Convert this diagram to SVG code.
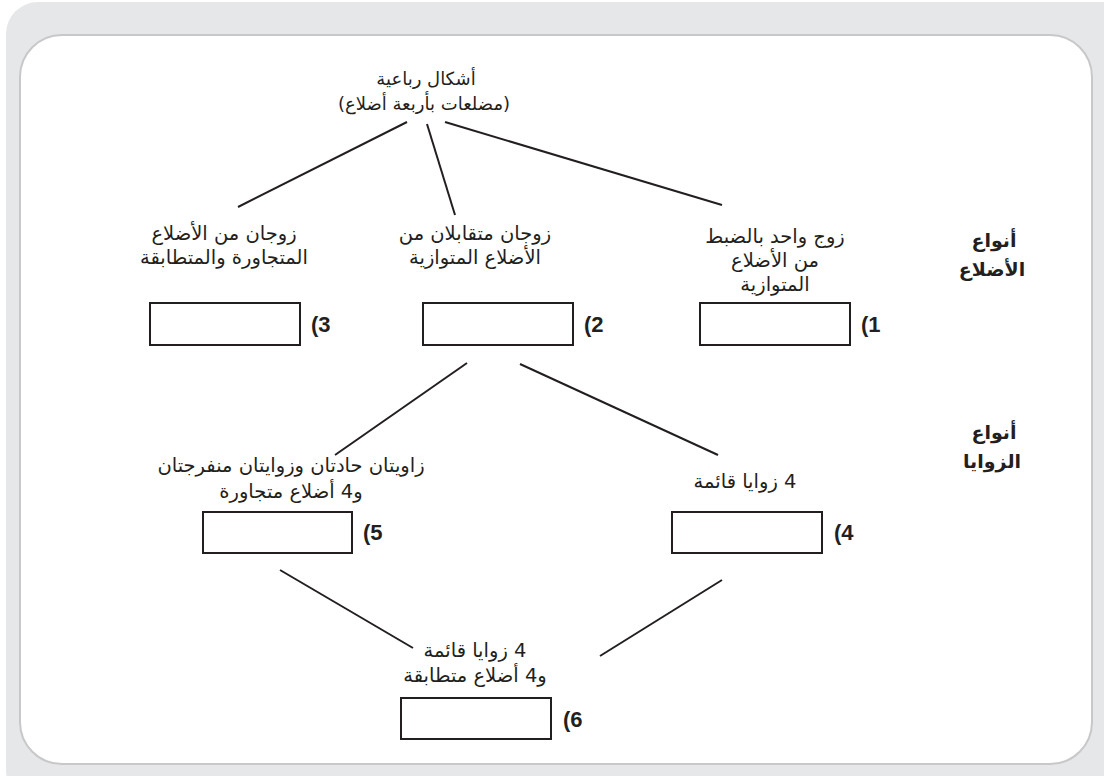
<svg xmlns="http://www.w3.org/2000/svg" width="1104" height="776" viewBox="0 0 1104 776">
<style>
.t{font-family:"DejaVu Sans","Noto Sans",sans-serif;font-size:19.5px;fill:#231f20;text-anchor:middle;direction:rtl;unicode-bidi:embed}
.tt{font-size:18px}
.h{font-family:"DejaVu Sans","Noto Sans",sans-serif;font-size:19px;font-weight:bold;fill:#231f20;text-anchor:middle;direction:rtl;unicode-bidi:embed}
.n{font-family:"Liberation Sans",Arial,sans-serif;font-size:22px;font-weight:bold;fill:#231f20}
.b{fill:#fff;stroke:#231f20;stroke-width:2}
.c line{stroke:#231f20;stroke-width:2}
</style>
<rect x="6" y="2" width="1130" height="800" rx="32" fill="#e6e7e8"/>
<rect x="20" y="35" width="1072" height="729" rx="42" fill="#fff" stroke="#c8c8ca" stroke-width="2"/>
<g class="c" id="connectors">
<line x1="407" y1="122" x2="238" y2="207"/>
<line x1="427" y1="124" x2="455" y2="215"/>
<line x1="445" y1="122" x2="722" y2="205"/>
<line x1="467" y1="363" x2="335" y2="455"/>
<line x1="520" y1="364" x2="718" y2="455"/>
<line x1="280" y1="570" x2="413" y2="648"/>
<line x1="722" y1="580" x2="600" y2="656"/>
</g>
<g id="root">
<text class="t tt" x="426" y="85">أشكال رباعية</text>
<text class="t tt" x="424" y="110">(مضلعات بأربعة أضلاع)</text>
</g>
<g id="hdr-sides">
<text class="h" x="994" y="247">أنواع</text>
<text class="h" x="992" y="276">الأضلاع</text>
</g>
<g id="hdr-angles">
<text class="h" x="994" y="439">أنواع</text>
<text class="h" x="992" y="468">الزوايا</text>
</g>
<g id="n3">
<text class="t" x="224" y="240">زوجان من الأضلاع</text>
<text class="t" x="224" y="264">المتجاورة والمتطابقة</text>
<rect class="b" x="150" y="303" width="150" height="42"/>
<text class="n" x="311" y="332">(3</text>
</g>
<g id="n2">
<text class="t" x="475" y="240">زوجان متقابلان من</text>
<text class="t" x="475" y="264">الأضلاع المتوازية</text>
<rect class="b" x="423" y="303" width="150" height="42"/>
<text class="n" x="584" y="332">(2</text>
</g>
<g id="n1">
<text class="t" x="775" y="243">زوج واحد بالضبط</text>
<text class="t" x="775" y="267">من الأضلاع</text>
<text class="t" x="775" y="291">المتوازية</text>
<rect class="b" x="700" y="303" width="150" height="42"/>
<text class="n" x="861" y="332">(1</text>
</g>
<g id="n5">
<text class="t" x="291" y="472">زاويتان حادتان وزوايتان منفرجتان</text>
<text class="t" x="291" y="498">و4 أضلاع متجاورة</text>
<rect class="b" x="203" y="512" width="149" height="41"/>
<text class="n" x="363" y="540">(5</text>
</g>
<g id="n4">
<text class="t" x="745" y="488">4 زوايا قائمة</text>
<rect class="b" x="672" y="512" width="150" height="41"/>
<text class="n" x="834" y="540">(4</text>
</g>
<g id="n6">
<text class="t" x="475" y="657">4 زوايا قائمة</text>
<text class="t" x="475" y="682">و4 أضلاع متطابقة</text>
<rect class="b" x="401" y="698" width="150" height="41"/>
<text class="n" x="563" y="727">(6</text>
</g>
</svg>
